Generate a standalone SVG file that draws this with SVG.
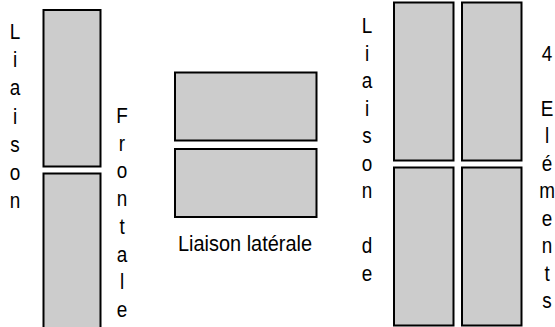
<svg xmlns="http://www.w3.org/2000/svg" width="555" height="327" viewBox="0 0 555 327">
<style>
.b{fill:#cccccc;stroke:#000;stroke-width:2}
.t{font-family:"Liberation Sans",Arial,sans-serif;font-size:22px;fill:#000;text-anchor:middle}
</style>
<rect width="555" height="327" fill="#fff"/>
<g id="frontale">
<rect class="b" x="43.5" y="10" width="57" height="156.5"/>
<rect class="b" x="43.5" y="173.5" width="57" height="160"/>
</g>
<g id="laterale">
<rect class="b" x="175" y="72.5" width="141.5" height="68"/>
<rect class="b" x="175" y="149" width="141.5" height="68"/>
</g>
<g id="quatre">
<rect class="b" x="394" y="2.5" width="59.5" height="158"/>
<rect class="b" x="462" y="2.5" width="59.5" height="158"/>
<rect class="b" x="394" y="167.5" width="59.5" height="158"/>
<rect class="b" x="462" y="167.5" width="59.5" height="158"/>
</g>
<g id="labels" class="t">
<g transform="translate(15,0) scale(0.86,1)">
<text x="0" y="39">L</text>
<text x="0" y="67">i</text>
<text x="0" y="95">a</text>
<text x="0" y="124">i</text>
<text x="0" y="152">s</text>
<text x="0" y="180">o</text>
<text x="0" y="208">n</text>
</g>
<g transform="translate(122,0) scale(0.86,1)">
<text x="0" y="123">F</text>
<text x="0" y="151">r</text>
<text x="0" y="178">o</text>
<text x="0" y="206">n</text>
<text x="0" y="234">t</text>
<text x="0" y="262">a</text>
<text x="0" y="289">l</text>
<text x="0" y="317">e</text>
</g>
<text x="245" y="251" textLength="134" lengthAdjust="spacingAndGlyphs">Liaison latérale</text>
<g transform="translate(367,0) scale(0.86,1)">
<text x="0" y="33.5">L</text>
<text x="0" y="61">i</text>
<text x="0" y="88.5">a</text>
<text x="0" y="116">i</text>
<text x="0" y="143.5">s</text>
<text x="0" y="171">o</text>
<text x="0" y="198.5">n</text>
<text x="0" y="253.5">d</text>
<text x="0" y="281">e</text>
</g>
<g transform="translate(547,0) scale(0.86,1)">
<text x="0" y="61">4</text>
<text x="0" y="116">E</text>
<text x="0" y="143.5">l</text>
<text x="0" y="171">é</text>
<text x="0" y="198.5">m</text>
<text x="0" y="226">e</text>
<text x="0" y="253.5">n</text>
<text x="0" y="281">t</text>
<text x="0" y="308.5">s</text>
</g>
</g>
</svg>
